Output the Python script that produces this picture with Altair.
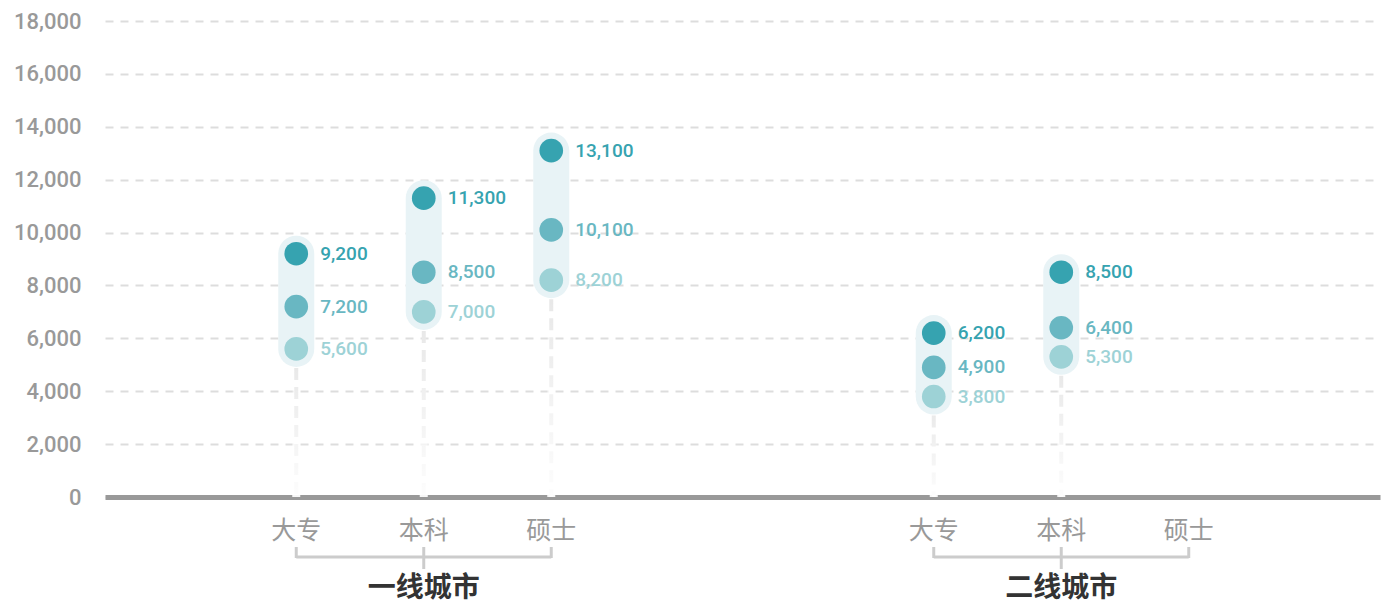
import altair as alt
import pandas as pd

# ---- data ----
groups = ["一线城市", "二线城市"]
edus = ["大专", "本科", "硕士"]
levels = ["高", "中", "低"]
# values per group -> per education: [high, mid, low]; None = no data
values = {
    "一线城市": [[9200, 7200, 5600], [11300, 8500, 7000], [13100, 10100, 8200]],
    "二线城市": [[6200, 4900, 3800], [8500, 6400, 5300], None],
}
y_ticks = [0, 2000, 4000, 6000, 8000, 10000, 12000, 14000, 16000, 18000]
level_colors = ["#36A3B0", "#69B7C2", "#9DD2D6"]

# ---- tables ----
slot_keys = []
for g in groups:
    slot_keys.append(g + "-pre")
    for e in edus:
        slot_keys.append(g + "-" + e)
    slot_keys.append(g + "-post")

pts, rng, cats, brackets, ticks, titles = [], [], [], [], [], []
for g in groups:
    first, mid, last = g + "-" + edus[0], g + "-" + edus[1], g + "-" + edus[-1]
    brackets.append({"x": first, "x2": last})
    ticks += [{"x": first, "kind": "end"}, {"x": last, "kind": "end"}, {"x": mid, "kind": "mid"}]
    titles.append({"x": mid, "t": g})
    for i, e in enumerate(edus):
        slot = g + "-" + e
        cats.append({"slot": slot, "t": e})
        v = values[g][i]
        if v is None:
            continue
        rng.append({"slot": slot, "lo": min(v), "hi": max(v)})
        for lv, val in zip(levels, v):
            pts.append({"slot": slot, "level": lv, "value": val})

pts = pd.DataFrame(pts)
rng = pd.DataFrame(rng)
cats = pd.DataFrame(cats)
brackets = pd.DataFrame(brackets)
ticks = pd.DataFrame(ticks)
titles = pd.DataFrame(titles)

xscale = alt.Scale(type="point", domain=slot_keys, padding=0.5)
yscale = alt.Scale(domain=[0, 18000], nice=False)
xaxis = alt.Axis(labels=False, ticks=False, title=None, domain=True, domainColor="#999999",
                 domainWidth=5, grid=False)
yaxis = alt.Axis(values=y_ticks, labelExpr="format(datum.value, ',')", title=None, grid=True,
                 gridColor="#dddddd", gridDash=[8, 7], gridWidth=2,
                 domain=False, ticks=False, labelPadding=24,
                 labelFont="Roboto", labelFontSize=22, labelColor="#999999",
                 labelFontWeight=500)
color = alt.Color("level:N", scale=alt.Scale(domain=levels, range=level_colors), legend=None)

base_pts = alt.Chart(pts)
stems = alt.Chart(rng).mark_rule(color="#e6e6e6", strokeWidth=4, strokeDash=[12, 7]).encode(
    x=alt.X("slot:N", scale=xscale, axis=xaxis),
    y=alt.Y("lo:Q", scale=yscale, axis=yaxis), y2=alt.datum(0))
fade = alt.Chart(rng).mark_bar(
    width=8,
    color=alt.Gradient(gradient="linear", x1=0, y1=0, x2=0, y2=1,
                       stops=[alt.GradientStop(color="rgba(255,255,255,0)", offset=0),
                              alt.GradientStop(color="rgba(255,255,255,0.92)", offset=1)]),
).encode(
    x=alt.X("slot:N", scale=xscale, axis=xaxis),
    y=alt.Y("lo:Q", scale=yscale, axis=yaxis), y2=alt.datum(0))
bands = alt.Chart(rng).mark_rule(color="#E8F3F6", strokeWidth=36, strokeCap="round").encode(
    x=alt.X("slot:N", scale=xscale, axis=xaxis),
    y=alt.Y("lo:Q", scale=yscale, axis=yaxis), y2="hi:Q")
dots = base_pts.mark_circle(size=560, opacity=1).encode(
    x=alt.X("slot:N", scale=xscale, axis=xaxis),
    y=alt.Y("value:Q", scale=yscale, axis=yaxis), color=color)
labels = base_pts.mark_text(align="left", baseline="middle", dx=24, font="Roboto", fontSize=19,
                            fontWeight=500).encode(
    x=alt.X("slot:N", scale=xscale, axis=xaxis),
    y=alt.Y("value:Q", scale=yscale, axis=yaxis), color=color,
    text=alt.Text("value:Q", format=","))

cat_text = alt.Chart(cats).mark_text(font="Noto Sans CJK SC", fontSize=25, color="#999999",
                                     baseline="middle").encode(
    x=alt.X("slot:N", scale=xscale, axis=xaxis), y=alt.value(510), text="t:N")
br = alt.Chart(brackets).mark_rule(color="#cccccc", strokeWidth=3).encode(
    x=alt.X("x:N", scale=xscale, axis=xaxis), x2="x2:N", y=alt.value(536))
tk_end = alt.Chart(ticks).transform_filter("datum.kind == 'end'").mark_rule(color="#cccccc", strokeWidth=3).encode(
    x=alt.X("x:N", scale=xscale, axis=xaxis), y=alt.value(526), y2=alt.value(537))
tk_mid = alt.Chart(ticks).transform_filter("datum.kind == 'mid'").mark_rule(color="#cccccc", strokeWidth=3).encode(
    x=alt.X("x:N", scale=xscale, axis=xaxis), y=alt.value(526), y2=alt.value(548))
title_text = alt.Chart(titles).mark_text(font="Noto Sans CJK SC", fontSize=28, fontWeight="bold",
                                         color="#333333", baseline="bottom").encode(
    x=alt.X("x:N", scale=xscale, axis=xaxis), y=alt.value(582), text="t:N")

chart = alt.layer(stems, fade, bands, dots, labels, cat_text, br, tk_end, tk_mid, title_text).properties(
    width=1275, height=476,
    autosize=alt.AutoSizeParams(type="none"),
    padding={"left": 97, "top": 13, "right": 3, "bottom": 110},
).configure_view(stroke=None)

chart.save("out.html", embed_options={"renderer": "svg", "actions": False})
